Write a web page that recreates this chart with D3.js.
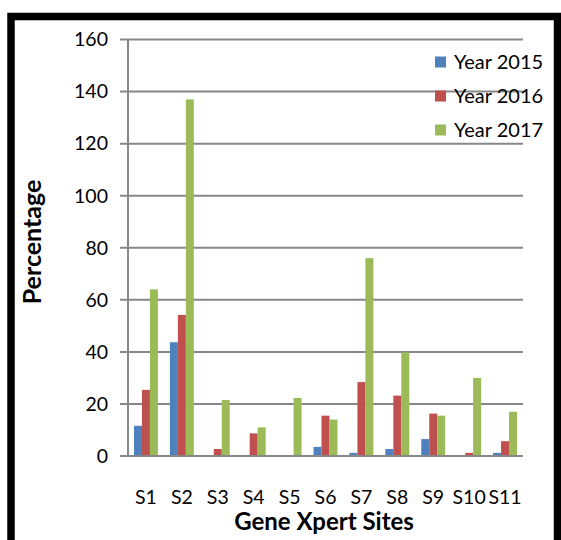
<!DOCTYPE html>
<html><head><meta charset="utf-8">
<script src="https://cdn.jsdelivr.net/npm/d3@7"></script>
<style>
html,body{margin:0;padding:0;background:#fff;}
svg{display:block;font-family:Lato,"Open Sans",sans-serif;}
</style></head>
<body>
<svg id="chart" width="561" height="540"></svg>
<script>
const categories = ["S1","S2","S3","S4","S5","S6","S7","S8","S9","S10","S11"];
const seriesNames = ["Year 2015","Year 2016","Year 2017"];
const year2015 = [11.6, 43.7, 0, 0, 0, 3.5, 1.2, 2.7, 6.5, 0, 1.2];
const year2016 = [25.4, 54.2, 2.7, 8.7, 0, 15.5, 28.4, 23.2, 16.3, 1.2, 5.7];
const year2017 = [64, 137, 21.5, 11, 22.3, 14, 76, 39.8, 15.5, 30, 17];
const colors = ["#4F81BD","#C0504D","#9BBB59"];
const yTicks = [0,20,40,60,80,100,120,140,160];

const series = [year2015, year2016, year2017];
const svg = d3.select("#chart");

// frame
svg.append("rect").attr("x",11).attr("y",16.5).attr("width",546.5).attr("height",540)
  .attr("fill","none").attr("stroke","#000").attr("stroke-width",7.5);

const pLeft = 128, pRight = 523, pTop = 39.5, pBottom = 456;
const x = d3.scaleBand().domain(categories).range([pLeft,pRight]).paddingInner(0).paddingOuter(0);
const y = d3.scaleLinear().domain([0,160]).range([pBottom,pTop]);

// gridlines
const g = svg.append("g");
g.selectAll("line.grid").data(yTicks).join("line")
  .attr("x1",pLeft-8).attr("x2",pRight)
  .attr("y1",d=>y(d)).attr("y2",d=>y(d))
  .attr("stroke","#878787").attr("stroke-width",2);
// y axis line
g.append("line").attr("x1",pLeft).attr("x2",pLeft).attr("y1",pTop).attr("y2",pBottom)
  .attr("stroke","#878787").attr("stroke-width",2);

// y tick labels
svg.append("g").selectAll("text").data(yTicks).join("text")
  .attr("x",108).attr("y",d=>y(d)).attr("dy","0.35em")
  .attr("text-anchor","end").attr("font-size",19.5).attr("fill","#000")
  .text(d=>d);

// bars
const bw = x.bandwidth()/4.5;
const barG = svg.append("g");
series.forEach((vals,si)=>{
  barG.selectAll("rect.s"+si).data(vals).join("rect")
    .attr("class","s"+si)
    .attr("x",(d,i)=>x(categories[i]) + bw*0.75 + si*bw)
    .attr("width",bw)
    .attr("y",d=>y(d))
    .attr("height",d=>pBottom - y(d))
    .attr("fill",colors[si]);
});
// redraw baseline over bars
svg.append("line").attr("x1",pLeft-8).attr("x2",pRight).attr("y1",pBottom).attr("y2",pBottom)
  .attr("stroke","#878787").attr("stroke-width",2);

// x labels
svg.append("g").selectAll("text").data(categories).join("text")
  .attr("x",d=>x(d)+x.bandwidth()/2).attr("y",497).attr("dy","0.35em")
  .attr("text-anchor","middle").attr("font-size",19.5).attr("fill","#000")
  .text(d=>d);

// axis titles
svg.append("text").attr("x",324).attr("y",522).attr("dy","0.35em")
  .attr("text-anchor","middle").attr("font-size",24).attr("font-weight","bold")
  .text("Gene Xpert Sites");
svg.append("text").attr("transform","translate(32,242) rotate(-90)").attr("dy","0.35em")
  .attr("text-anchor","middle").attr("font-size",25).attr("font-weight","bold")
  .text("Percentage");

// legend
const leg = svg.append("g");
seriesNames.forEach((n,i)=>{
  const cy = 62 + i*34;
  leg.append("rect").attr("x",435).attr("y",cy-5.5).attr("width",11).attr("height",11).attr("fill",colors[i]);
  leg.append("text").attr("x",454).attr("y",cy).attr("dy","0.35em").attr("font-size",20).text(n);
});
</script>
</body></html>
